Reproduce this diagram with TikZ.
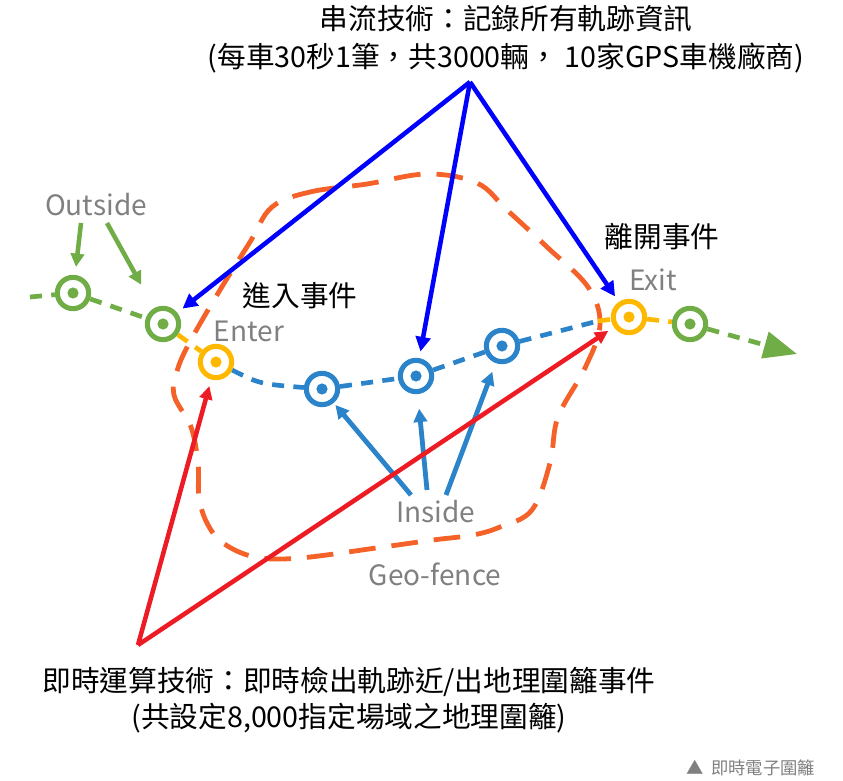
\documentclass[tikz,border=0pt]{standalone}
\usepackage{fontspec}
\setmainfont{Noto Sans CJK TC}
\usetikzlibrary{arrows.meta}
\definecolor{cgreen}{HTML}{70AD47}
\definecolor{cyellow}{HTML}{FFB800}
\definecolor{cblue}{HTML}{2B83C9}
\definecolor{cfence}{HTML}{F4622A}
\definecolor{cred}{HTML}{ED1C24}
\definecolor{cbarr}{HTML}{0000FF}
\definecolor{cgray}{HTML}{808080}
\begin{document}
\begin{tikzpicture}[x=0.75pt,y=-0.75pt,
  trackpt/.style={circle, draw=#1, line width=3.8pt, minimum size=23.5pt, inner sep=0pt,
    path picture={\fill[#1] (path picture bounding box.center) circle (4.2pt);}},
  track/.style={line width=3.5pt, dash pattern=on 9pt off 7pt},
  fence/.style={draw=cfence, line width=3.6pt, dash pattern=on 20pt off 12pt},
  bluearr/.style={draw=cbarr, line width=3.4pt, -{Triangle[length=11pt,width=11pt]}, shorten >=5pt},
  redarr/.style={draw=cred, line width=3.4pt, -{Triangle[length=10pt,width=9.5pt]}, shorten >=5pt},
  insarr/.style={draw=cblue, line width=3.6pt, -{Triangle[length=10pt,width=10pt]}},
  outarr/.style={draw=cgreen, line width=3.4pt, -{Triangle[length=10pt,width=10pt]}},
  graylbl/.style={text=cgray, font=\fontsize{21}{25}\selectfont, inner sep=0pt},
  blklbl/.style={text=black, font=\fontsize{21.5}{26}\selectfont, inner sep=0pt}
]
\useasboundingbox (0,0) rectangle (843,781);

% geo-fence
\draw[fence] plot[smooth cycle, tension=0.6] coordinates {
 (272,207) (310,192) (367,184) (427,174) (477,183) (507,210) (547,247) (588,287)
 (600,325) (585,368) (558,417) (550,463) (532,510) (500,527) (473,535) (433,540) (383,547)
 (300,558) (255,557) (223,543) (207,523) (199,497) (198,463) (191,427) (174,395)
 (178,368) (192,338) (220,290) (250,242)};

% track points
\node[trackpt=cgreen] (g1) at (73,293) {};
\node[trackpt=cgreen] (g2) at (163,324) {};
\node[trackpt=cyellow] (en) at (216,362) {};
\node[trackpt=cblue] (b1) at (322,389) {};
\node[trackpt=cblue] (b2) at (416,376) {};
\node[trackpt=cblue] (b3) at (502,346) {};
\node[trackpt=cyellow] (ex) at (629,317) {};
\node[trackpt=cgreen] (g3) at (690,324) {};
\coordinate (start) at (30,297);
\coordinate (pre) at (598,321);
\coordinate (end) at (797,354);

% track
\draw[track, cgreen] (start) -- (g1);
\draw[track, cgreen] (g1) -- (g2);
\draw[track, cyellow] (g2) -- (en);
\draw[track, cblue] (en) .. controls (260,384) .. (b1);
\draw[track, cblue] (b1) -- (b2);
\draw[track, cblue] (b2) -- (b3);
\draw[track, cblue] (b3) -- (pre);
\draw[track, cyellow] (pre) -- (ex);
\draw[track, cyellow] (ex) -- (g3);
\draw[track, cgreen, -{Triangle[length=25pt,width=20pt]}] (g3) -- (end);

% labels
\node[graylbl] (outside) at (96,205) {Outside};
\node[graylbl] (enter) at (249,331) {Enter};
\node[graylbl] (exit) at (653,280) {Exit};
\node[graylbl] (inside) at (436,512) {Inside};
\node[graylbl] (geofence) at (435,574) {Geo-fence};
\node[blklbl] (inev) at (300,296) {進入事件};
\node[blklbl] (outev) at (662,237) {離開事件};

\node[blklbl, align=center, font=\fontsize{21.5}{28.5}\selectfont] (top) at (506,39)
  {串流技術：記錄所有軌跡資訊\\(每車30秒1筆，共3000輛， 10家GPS車機廠商)};
\node[blklbl, align=center, font=\fontsize{21.5}{26.5}\selectfont] (bottom) at (349,700)
  {即時運算技術：即時檢出軌跡近/出地理圍籬事件\\(共設定8,000指定場域之地理圍籬)};
\node[text=cgray, font=\fontsize{13}{16}\selectfont, inner sep=0pt] (cap) at (751,768) {▲\, 即時電子圍籬};

% outside arrows
\coordinate (o1) at (81,223);
\coordinate (o2) at (107,223);
\draw[outarr, shorten >=6pt] (o1) -- (g1);
\draw[outarr, shorten >=20pt] (o2) -- (g2);

% inside arrows
\coordinate (i1) at (411,495);
\coordinate (i2) at (427,490);
\coordinate (i3) at (446,495);
\draw[insarr, shorten >=2pt] (i1) -- (b1);
\draw[insarr, shorten >=11pt] (i2) -- (b2);
\draw[insarr, shorten >=7pt] (i3) -- (b3);

% blue streaming arrows
\coordinate (ta) at (470,82);
\draw[bluearr] (ta) -- (g2);
\draw[bluearr] (ta) -- (b2);
\draw[bluearr] (ta) -- (ex);

% red compute arrows
\coordinate (ra) at (138,645);
\draw[redarr] (ra) -- (en);
\draw[redarr] (ra) -- (ex);
\end{tikzpicture}
\end{document}
